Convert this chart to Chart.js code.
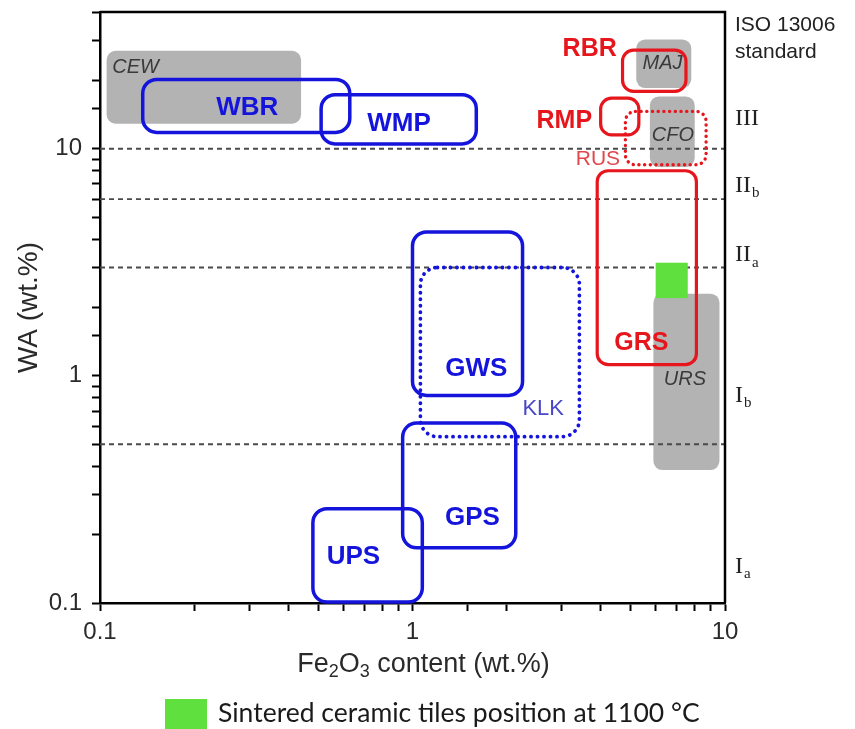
<!DOCTYPE html>
<html>
<head>
<meta charset="utf-8">
<script src="https://cdn.jsdelivr.net/npm/chart.js@4.4.1/dist/chart.umd.min.js"></script>
<style>
  html, body { margin: 0; padding: 0; background: #fff; }
  #wrap { width: 855px; height: 729px; }
</style>
</head>
<body>
<div id="wrap"><canvas id="chart" width="855" height="729"></canvas></div>
<script>
// Fe2O3 content (wt.%) vs water absorption WA (wt.%) ranges of tile bodies
const regionNames = ['CEW', 'MAJ', 'CFO', 'URS', 'WBR', 'WMP', 'GWS', 'KLK', 'GPS', 'UPS', 'RBR', 'RMP', 'RUS', 'GRS'];
const regionGroup = ['reference', 'reference', 'reference', 'reference',
                     'white', 'white', 'white', 'whiteRange', 'white', 'white',
                     'red', 'red', 'redRange', 'red'];
const feLow  = [0.105, 5.2, 5.75, 5.9, 0.137, 0.51, 1.0, 1.06, 0.93, 0.48, 4.7, 4.0, 4.8, 3.9];
const feHigh = [0.44, 7.8, 8.0, 9.6, 0.63, 1.6, 2.25, 3.42, 2.14, 1.075, 7.5, 5.3, 8.7, 8.1];
const waLow  = [12.9, 18.5, 8.3, 0.385, 11.8, 10.5, 0.82, 0.54, 0.175, 0.101, 17.9, 11.5, 8.5, 1.12];
const waHigh = [27.0, 30.3, 17.0, 2.3, 20.2, 17.3, 4.3, 3.0, 0.62, 0.26, 27.2, 16.7, 14.6, 8.0];
// where each region's name is written
const labelFe = [0.13, 6.31, 6.81, 7.44, 0.296, 0.906, 1.6, 2.62, 1.556, 0.647, 3.69, 3.06, 3.92, 5.4];
const labelWa = [22.7, 23.7, 11.5, 0.96, 15.2, 12.9, 1.07, 0.715, 0.236, 0.16, 27.4, 13.3, 9.0, 1.4];

// sintered tiles fired at 1100 °C
const tilesFe = [6.0, 7.6];
const tilesWa = [2.2, 3.15];
const tilesLabel = 'Sintered ceramic tiles position at 1100 °C';

// ISO 13006 water absorption class limits and class names
const isoLimits = [10, 6, 3, 0.5];
const isoClass = ['III', 'II', 'II', 'I', 'I'];
const isoSub = ['', 'b', 'a', 'b', 'a'];
const isoClassWa = [13.6, 6.9, 3.4, 0.82, 0.145];

// axis ticks that carry a label
const decadeTicks = [0.1, 1, 10];

const SANS = '"Liberation Sans", Arial, Helvetica, sans-serif';
const SERIF = '"Liberation Serif", "Times New Roman", serif';

const groupStyle = {
  reference:  { fill: '#b3b3b3', radius: 9, font: 'italic 20px ' + SANS, text: '#3a3a3a' },
  white:      { stroke: '#1414dc', width: 3.5, radius: 14, font: 'bold 26px ' + SANS, text: '#1414dc' },
  whiteRange: { stroke: '#1414dc', width: 3.8, dash: [0.1, 6.4], radius: 17, font: '22px ' + SANS, text: '#4747c8' },
  red:        { stroke: '#e6161c', width: 3.2, radius: 11, font: 'bold 25px ' + SANS, text: '#e6161c' },
  redRange:   { stroke: '#e6161c', width: 3.4, dash: [0.1, 5.6], radius: 10, font: '21px ' + SANS, text: '#e0484c' }
};

function roundedRect(ctx, x0, y0, x1, y1, r) {
  const l = Math.min(x0, x1), rr = Math.max(x0, x1);
  const t = Math.min(y0, y1), b = Math.max(y0, y1);
  r = Math.min(r, (rr - l) / 2, (b - t) / 2);
  ctx.beginPath();
  ctx.moveTo(l + r, t);
  ctx.arcTo(rr, t, rr, b, r);
  ctx.arcTo(rr, b, l, b, r);
  ctx.arcTo(l, b, l, t, r);
  ctx.arcTo(l, t, rr, t, r);
  ctx.closePath();
}

const limitDatasets = isoLimits.map(v => ({
  label: 'WA ' + v,
  data: [{ x: 0.1, y: v }, { x: 10, y: v }],
  showLine: true,
  borderColor: '#4a4a4a',
  borderWidth: 1.8,
  borderDash: [5, 4],
  pointRadius: 0,
  fill: false
}));

const regionDatasets = regionNames.map((name, i) => ({
  label: name,
  data: [{ x: feLow[i], y: waLow[i] }, { x: feHigh[i], y: waHigh[i] }],
  showLine: false,
  pointRadius: 0,
  regionIndex: i
}));

const tilesDataset = {
  label: tilesLabel,
  data: [{ x: tilesFe[0], y: tilesWa[0] }, { x: tilesFe[1], y: tilesWa[1] }],
  showLine: false,
  pointRadius: 0,
  tiles: true,
  backgroundColor: '#5fe03e'
};

function boxPixels(chart, ds) {
  const xs = chart.scales.x, ys = chart.scales.y;
  return [xs.getPixelForValue(ds.data[0].x), ys.getPixelForValue(ds.data[0].y),
          xs.getPixelForValue(ds.data[1].x), ys.getPixelForValue(ds.data[1].y)];
}

function drawRegionLabel(chart, i) {
  const ctx = chart.ctx, st = groupStyle[regionGroup[i]];
  ctx.save();
  ctx.font = st.font;
  ctx.fillStyle = st.text;
  ctx.textAlign = 'center';
  ctx.textBaseline = 'middle';
  ctx.fillText(regionNames[i], chart.scales.x.getPixelForValue(labelFe[i]), chart.scales.y.getPixelForValue(labelWa[i]));
  ctx.restore();
}

// writes text runs, lowering and shrinking the subscript ones, centred on cx
function drawRuns(ctx, runs, cx, cy, size, subSize, subDrop) {
  const fontOf = r => (r.sub ? subSize : size) + 'px ' + SANS;
  let total = 0;
  runs.forEach(r => { ctx.font = fontOf(r); total += ctx.measureText(r.t).width; });
  let x = cx - total / 2;
  ctx.textAlign = 'left';
  runs.forEach(r => {
    ctx.font = fontOf(r);
    ctx.fillText(r.t, x, cy + (r.sub ? subDrop : 0));
    x += ctx.measureText(r.t).width;
  });
}

const regionPlugin = {
  id: 'regionBoxes',
  beforeDatasetsDraw(chart) {
    const ctx = chart.ctx;
    chart.data.datasets.forEach(ds => {
      if (ds.regionIndex === undefined) return;
      const i = ds.regionIndex;
      if (regionGroup[i] !== 'reference') return;
      const st = groupStyle.reference;
      const [x0, y0, x1, y1] = boxPixels(chart, ds);
      ctx.save();
      roundedRect(ctx, x0, y0, x1, y1, st.radius);
      ctx.fillStyle = st.fill;
      ctx.fill();
      ctx.restore();
      drawRegionLabel(chart, i);
    });
  },
  afterDatasetsDraw(chart) {
    const ctx = chart.ctx;
    chart.data.datasets.forEach(ds => {
      if (ds.regionIndex === undefined) return;
      const i = ds.regionIndex;
      if (regionGroup[i] === 'reference') return;
      const st = groupStyle[regionGroup[i]];
      const [x0, y0, x1, y1] = boxPixels(chart, ds);
      ctx.save();
      roundedRect(ctx, x0, y0, x1, y1, st.radius);
      ctx.strokeStyle = st.stroke;
      ctx.lineWidth = st.width;
      if (st.dash) { ctx.setLineDash(st.dash); ctx.lineCap = 'round'; }
      ctx.stroke();
      ctx.restore();
    });
    chart.data.datasets.forEach(ds => {
      if (!ds.tiles) return;
      const [x0, y0, x1, y1] = boxPixels(chart, ds);
      ctx.save();
      ctx.fillStyle = ds.backgroundColor;
      ctx.fillRect(Math.min(x0, x1), Math.min(y0, y1), Math.abs(x1 - x0), Math.abs(y1 - y0));
      ctx.restore();
    });
    regionNames.forEach((n, i) => { if (regionGroup[i] !== 'reference') drawRegionLabel(chart, i); });
  },
  afterDraw(chart) {
    const ctx = chart.ctx, a = chart.chartArea;
    // closing frame on top and right
    ctx.save();
    ctx.strokeStyle = '#000';
    ctx.lineWidth = 2.5;
    ctx.beginPath();
    ctx.moveTo(a.left, a.top);
    ctx.lineTo(a.right, a.top);
    ctx.lineTo(a.right, a.bottom);
    ctx.stroke();

    // ISO 13006 classes along the right edge
    const tx = a.right + 10;
    ctx.fillStyle = '#222';
    ctx.textAlign = 'left';
    ctx.textBaseline = 'middle';
    ctx.font = '21px ' + SANS;
    ctx.fillText('ISO 13006', tx, a.top + 13);
    ctx.fillText('standard', tx, a.top + 40);
    const ys = chart.scales.y;
    isoClass.forEach((c, i) => {
      const y = ys.getPixelForValue(isoClassWa[i]);
      ctx.font = '24px ' + SERIF;
      ctx.fillText(c, tx, y);
      if (isoSub[i]) {
        const w = ctx.measureText(c).width;
        ctx.font = '15px ' + SERIF;
        ctx.fillText(isoSub[i], tx + w + 1, y + 8);
      }
    });

    // x axis title with true subscripts
    ctx.fillStyle = '#2a2a2a';
    drawRuns(ctx, [{ t: 'Fe' }, { t: '2', sub: true }, { t: 'O' }, { t: '3', sub: true }, { t: ' content (wt.%)' }],
             (a.left + a.right) / 2 + 11, 665, 27, 18, 7);

    // legend entry for the fired tiles
    const td = chart.data.datasets.find(d => d.tiles);
    ctx.fillStyle = td.backgroundColor;
    ctx.fillRect(165, 699, 42, 30);
    ctx.fillStyle = '#1a1a1a';
    ctx.font = '26.5px Lato, "Open Sans", sans-serif';
    ctx.textAlign = 'left';
    ctx.textBaseline = 'middle';
    ctx.fillText(td.label, 218, 713);
    ctx.restore();
  }
};

const isDecade = v => decadeTicks.some(d => Math.abs(Math.log10(v) - Math.log10(d)) < 1e-6);
const tickText = v => isDecade(v) ? String(Number(v.toPrecision(3))) : '';

new Chart(document.getElementById('chart'), {
  type: 'scatter',
  data: { datasets: [...limitDatasets, ...regionDatasets, tilesDataset] },
  options: {
    responsive: false,
    animation: false,
    devicePixelRatio: 1,
    events: [],
    layout: { padding: { left: 0, right: 130, top: 12, bottom: 0 } },
    plugins: { legend: { display: false }, tooltip: { enabled: false } },
    scales: {
      x: {
        type: 'logarithmic',
        min: 0.1,
        max: 10,
        afterFit: s => { s.height = 126; },
        border: { display: true, color: '#000', width: 2.5 },
        grid: { drawOnChartArea: false, drawTicks: true, tickLength: 8, tickWidth: 2, tickColor: '#000' },
        ticks: {
          autoSkip: false, maxRotation: 0, padding: 7, color: '#2a2a2a',
          font: { family: SANS, size: 24, lineHeight: 1.2 },
          callback: v => tickText(v)
        },
        title: { display: false }
      },
      y: {
        type: 'logarithmic',
        min: 0.1,
        max: 40,
        afterFit: s => { s.width = 100; s.paddingTop = 0; s.paddingBottom = 0; },
        border: { display: true, color: '#000', width: 2.5 },
        grid: { drawOnChartArea: false, drawTicks: true, tickLength: 8, tickWidth: 2, tickColor: '#000' },
        ticks: {
          autoSkip: false, padding: 10, color: '#2a2a2a',
          font: { family: SANS, size: 24, lineHeight: 1 },
          callback: v => tickText(v)
        },
        title: {
          display: true,
          text: 'WA (wt.%)',
          color: '#2a2a2a',
          font: { family: SANS, size: 28, lineHeight: 1.2 },
          padding: { top: 12, bottom: 0 }
        }
      }
    }
  },
  plugins: [regionPlugin]
});
</script>
</body>
</html>
